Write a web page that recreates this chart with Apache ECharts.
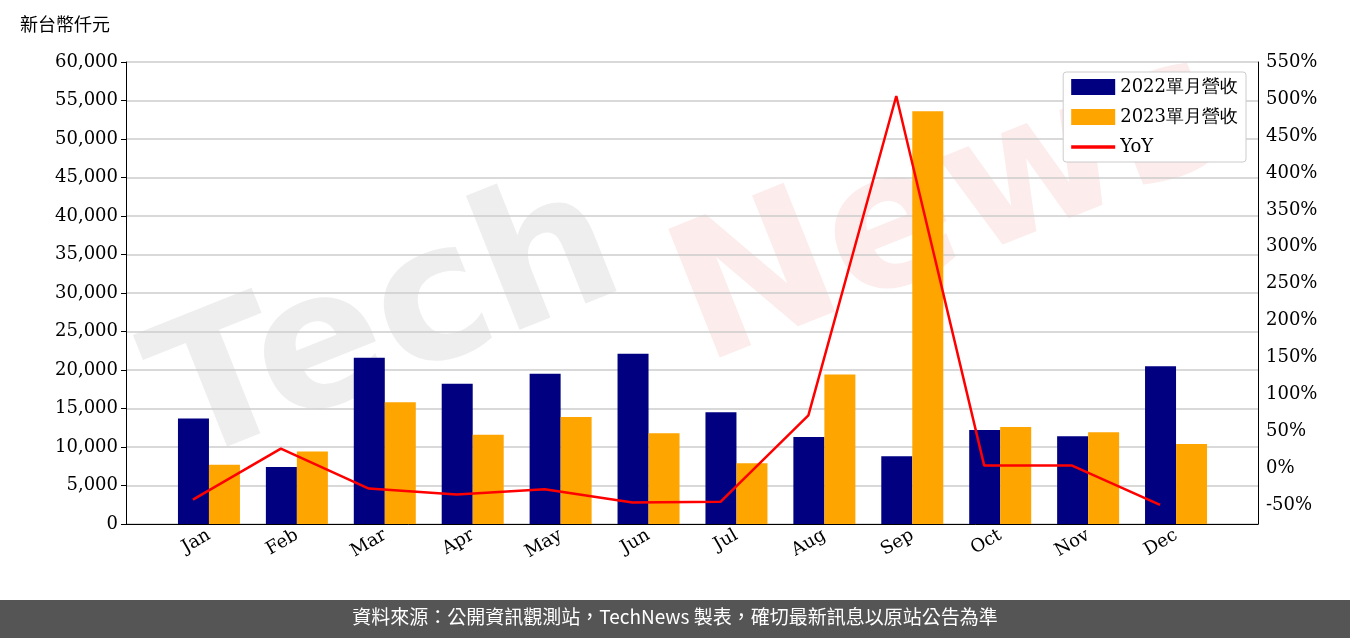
<!DOCTYPE html>
<html><head><meta charset="utf-8">
<script src="https://cdn.jsdelivr.net/npm/echarts@6/dist/echarts.min.js"></script>
<style>html,body{margin:0;padding:0;background:#fff}#c{width:1350px;height:638px}</style>
</head><body><div id="c"></div>
<script>
const categories=['Jan','Feb','Mar','Apr','May','Jun','Jul','Aug','Sep','Oct','Nov','Dec'];
const rev2022=[13700,7400,21600,18200,19500,22100,14500,11300,8800,12200,11400,20500];
const rev2023=[7700,9400,15800,11600,13900,11800,7900,19400,53600,12600,11900,10400];
const yoy=[-42,27,-27,-35,-28,-46,-45,72,504,4,4,-49];
const font='DejaVu Serif';
const lab={fontSize:18,color:'#000',fontFamily:font};
const chart=echarts.init(document.getElementById('c'));
chart.setOption({
  animation:false,
  textStyle:{fontFamily:font},
  grid:[{left:165,right:130,top:62,bottom:114},{left:126,right:92,top:62,bottom:114},{left:149,right:146,top:62,bottom:114}],
  graphic:[
    {type:'text',left:20,top:15,style:{text:'新台幣仟元',font:'18px "Noto Sans CJK TC"',fill:'#000'}},
    {type:'text',x:130,y:330,rotation:0.38,z:-1,style:{text:'Tech',font:'bold 190px "DejaVu Sans"',fill:'rgba(200,200,200,0.3)'}},
    {type:'text',x:650,y:230,rotation:0.38,z:-1,style:{text:'News',font:'bold 190px "DejaVu Sans"',fill:'rgba(240,150,150,0.18)'}},
    {type:'rect',left:0,top:600,shape:{width:1350,height:38},style:{fill:'#555'}},
    {type:'text',left:'center',top:607,style:{text:'資料來源：公開資訊觀測站，TechNews 製表，確切最新訊息以原站公告為準',font:'19px "Noto Sans CJK TC"',fill:'#fff'}}
  ],
  legend:{right:104,top:72,orient:'vertical',itemWidth:44,itemHeight:16,itemGap:12,
    backgroundColor:'#fff',borderColor:'#ccc',borderWidth:1,borderRadius:3,padding:[6,8],
    textStyle:{fontFamily:font,fontSize:18,color:'#000'},
    data:[{name:'2022單月營收',icon:'rect'},{name:'2023單月營收',icon:'rect'},{name:'YoY',icon:'path://M0,0H40V3H0Z'}]},
  xAxis:[
    {type:'category',data:categories,gridIndex:0,
     axisLine:{show:false},axisTick:{lineStyle:{color:'#000'},alignWithLabel:true},
     axisLabel:Object.assign({rotate:30,margin:10},lab)},
    {type:'category',data:[''],gridIndex:1,axisLine:{lineStyle:{color:'#000'}},axisTick:{show:false},axisLabel:{show:false}},
    {type:'category',data:categories,gridIndex:2,show:false}
  ],
  yAxis:[
    {type:'value',gridIndex:0,min:0,max:60000,interval:5000,show:false,splitLine:{show:false}},
    {type:'value',gridIndex:2,min:-75,max:550,interval:25,show:false,splitLine:{show:false}},
    {type:'value',gridIndex:1,min:0,max:60000,interval:5000,
     axisLine:{show:true,lineStyle:{color:'#000'}},axisTick:{show:true,lineStyle:{color:'#000'}},
     splitLine:{lineStyle:{color:'#ccc',width:1.5}},
     axisLabel:Object.assign({formatter:v=>v.toLocaleString('en-US')},lab)},
    {type:'value',gridIndex:1,position:'right',min:-75,max:550,interval:25,
     axisLine:{show:true,lineStyle:{color:'#000'}},axisTick:{show:false},splitLine:{show:false},
     axisLabel:Object.assign({formatter:v=>(v%50===0?v+'%':'')},lab)}
  ],
  series:[
    {name:'2022單月營收',type:'bar',xAxisIndex:0,yAxisIndex:0,data:rev2022,itemStyle:{color:'#000080'},barWidth:31,barGap:'0%'},
    {name:'2023單月營收',type:'bar',xAxisIndex:0,yAxisIndex:0,data:rev2023,itemStyle:{color:'#FFA500'},barWidth:31},
    {name:'YoY',type:'line',xAxisIndex:2,yAxisIndex:1,data:yoy,symbol:'none',lineStyle:{color:'#ff0000',width:2.5},itemStyle:{color:'#ff0000'},z:5}
  ]
});
</script></body></html>
